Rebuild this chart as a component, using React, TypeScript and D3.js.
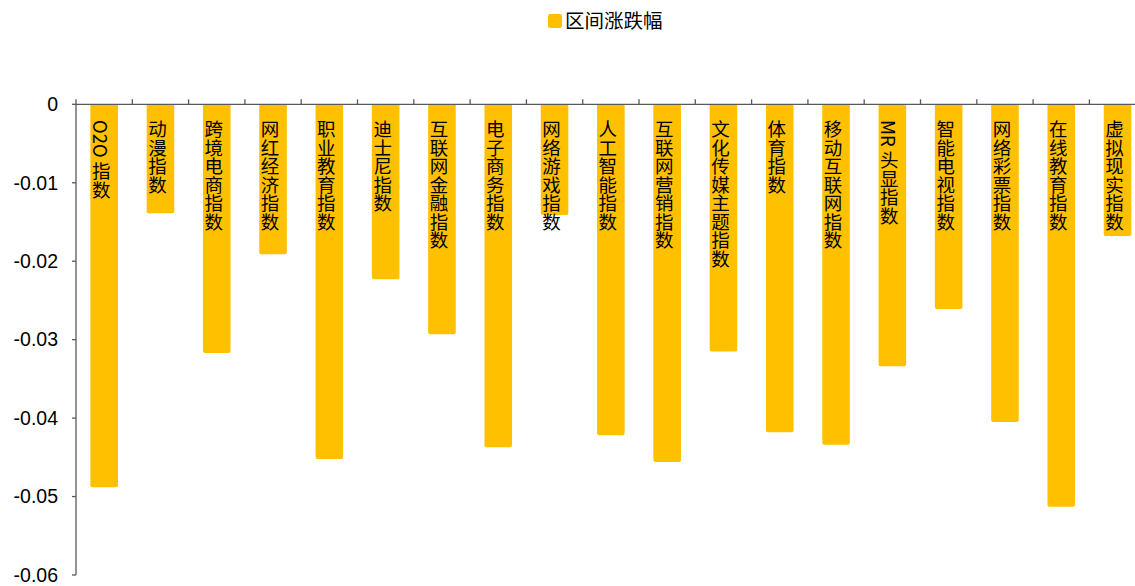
import React from "react";
import * as d3 from "d3";

const categories = [
  "O2O 指数", "动漫指数", "跨境电商指数", "网红经济指数", "职业教育指数", "迪士尼指数",
  "互联网金融指数", "电子商务指数", "网络游戏指数", "人工智能指数", "互联网营销指数",
  "文化传媒主题指数", "体育指数", "移动互联网指数", "MR 头显指数", "智能电视指数",
  "网络彩票指数", "在线教育指数", "虚拟现实指数",
];
const values = [
  -0.0488, -0.0139, -0.0317, -0.0191, -0.0452, -0.0223, -0.0293, -0.0437, -0.0141,
  -0.0422, -0.0456, -0.0315, -0.0418, -0.0434, -0.0334, -0.0261, -0.0405, -0.0513, -0.0168,
];
const yTicks = [0, -0.01, -0.02, -0.03, -0.04, -0.05, -0.06];
const yTickLabels = ["0", "-0.01", "-0.02", "-0.03", "-0.04", "-0.05", "-0.06"];
const seriesName = "区间涨跌幅";

const W = 1135;
const H = 586;
const left = 76;
const step = 56.3;
const axisColor = "#595959";
const barColor = "#FFC000";

export default function App() {
  const x = d3
    .scaleBand<string>()
    .domain(categories)
    .range([left, left + step * categories.length])
    .padding(0);
  const y = d3.scaleLinear().domain([-0.06, 0]).range([575, 104.3]);
  const bw = x.bandwidth() * 0.49;
  const r = 2;

  const barPath = (cx: number, v: number) => {
    const x0 = cx - bw / 2;
    const x1 = cx + bw / 2;
    const y0 = y(0);
    const y1 = y(v);
    const p = d3.path();
    p.moveTo(x0, y0);
    p.lineTo(x1, y0);
    p.lineTo(x1, y1 - r);
    p.quadraticCurveTo(x1, y1, x1 - r, y1);
    p.lineTo(x0 + r, y1);
    p.quadraticCurveTo(x0, y1, x0, y1 - r);
    p.closePath();
    return p.toString();
  };

  const cjk = "'Noto Sans CJK SC', 'Noto Sans', sans-serif";
  const num = "'Liberation Sans', Arial, sans-serif";

  return (
    <svg
      width={W}
      height={H}
      style={{ position: "absolute", left: 0, top: 0, background: "#fff" }}
    >
      {/* legend */}
      <rect x={548} y={14} width={14} height={14} rx={2.5} fill={barColor} />
      <text x={565} y={28} fontSize={19.5} fontFamily={cjk} fill="#000">
        {seriesName}
      </text>

      {/* bars */}
      {categories.map((c, i) => {
        const cx = (x(c) as number) + x.bandwidth() / 2;
        return <path key={c} d={barPath(cx, values[i])} fill={barColor} />;
      })}

      {/* top axis (zero line) */}
      <line
        x1={left}
        x2={left + step * categories.length}
        y1={y(0)}
        y2={y(0)}
        stroke={axisColor}
        strokeWidth={1.3}
      />
      {categories.map((c) => (
        <line
          key={"t" + c}
          x1={(x(c) as number) + x.bandwidth()}
          x2={(x(c) as number) + x.bandwidth()}
          y1={y(0) - 5}
          y2={y(0)}
          stroke={axisColor}
          strokeWidth={1.3}
        />
      ))}
      <line x1={left} x2={left} y1={y(0) - 5} y2={y(0)} stroke={axisColor} strokeWidth={1.3} />

      {/* left axis */}
      <line x1={left} x2={left} y1={y(0)} y2={y(-0.06)} stroke={axisColor} strokeWidth={1.3} />
      {yTicks.map((t, i) => (
        <g key={"y" + i}>
          <line x1={left - 4} x2={left} y1={y(t)} y2={y(t)} stroke={axisColor} strokeWidth={1.3} />
          <text
            x={58}
            y={y(t)}
            dy="0.35em"
            textAnchor="end"
            fontSize={19.5}
            fontFamily={num}
            fill="#000"
          >
            {yTickLabels[i]}
          </text>
        </g>
      ))}

      {/* category labels */}
      {categories.map((c) => {
        const cx = (x(c) as number) + x.bandwidth() / 2 - 3;
        return (
          <text
            key={"l" + c}
            x={cx}
            y={120}
            fontSize={18.5}
            fontFamily={cjk}
            fill="#000"
            style={{ writingMode: "vertical-rl", textOrientation: "mixed" } as any}
          >
            {c}
          </text>
        );
      })}
    </svg>
  );
}
